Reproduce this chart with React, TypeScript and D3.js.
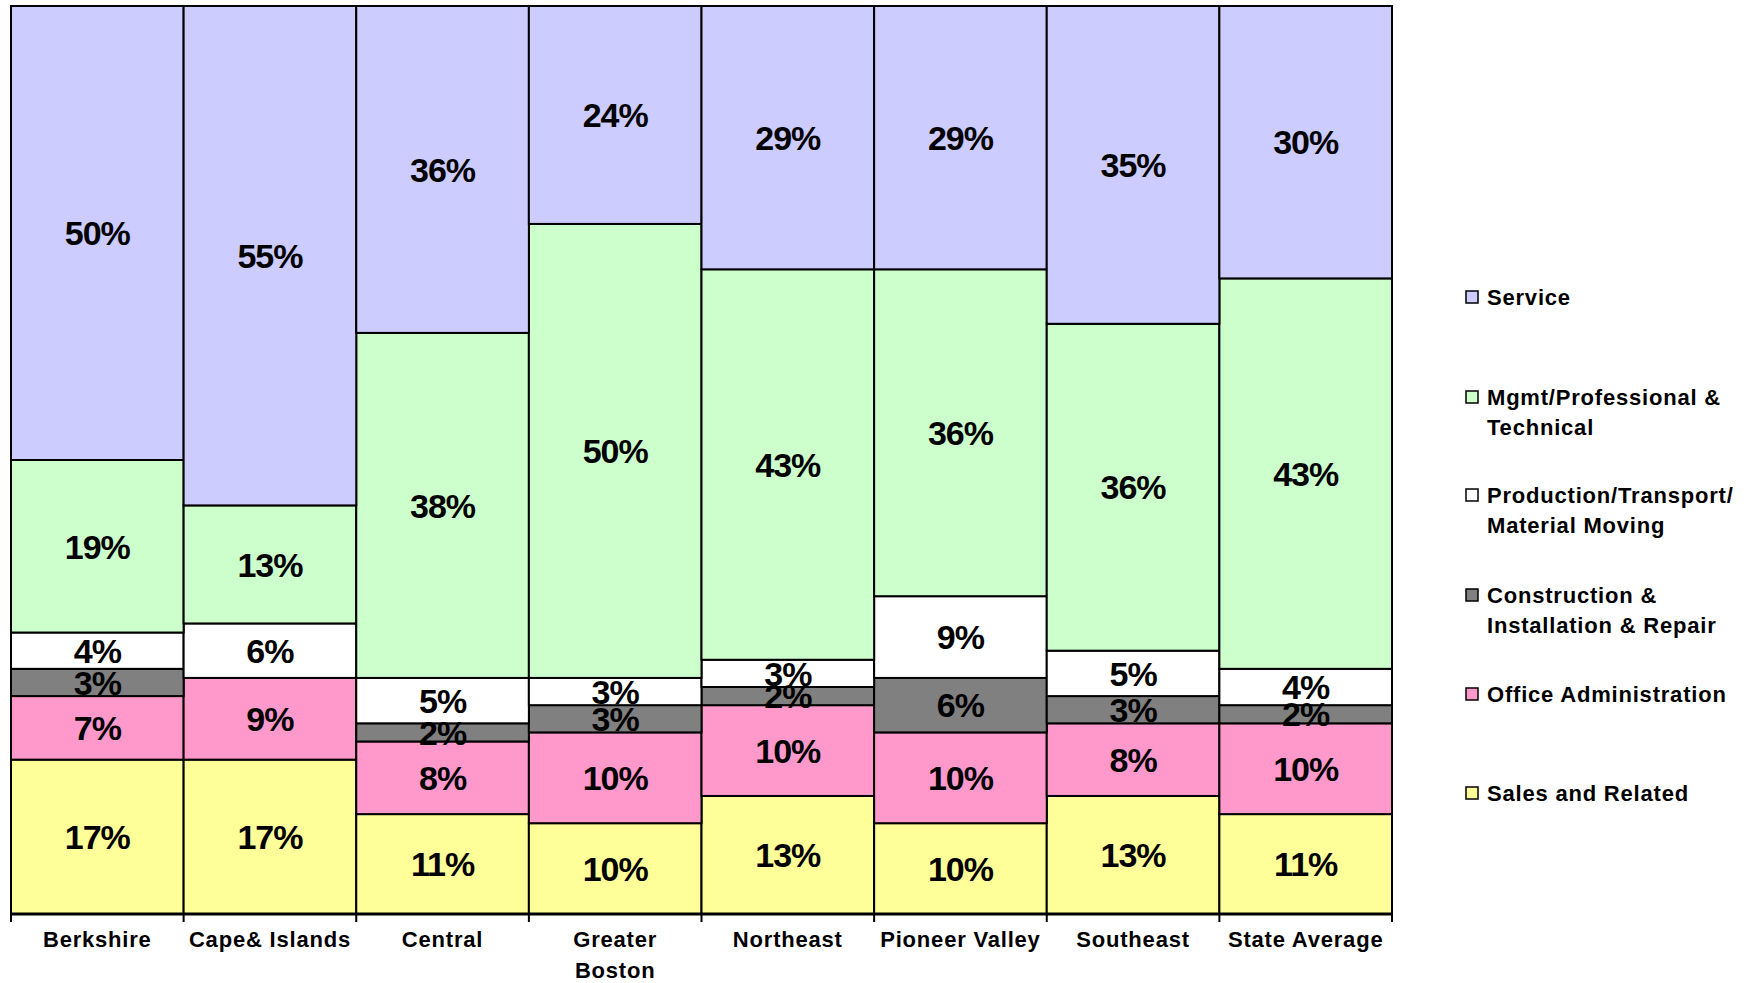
import React from 'react';
import * as d3 from 'd3';

// regions along the x axis
const regions = ['Berkshire', 'Cape& Islands', 'Central', 'Greater Boston', 'Northeast', 'Pioneer Valley', 'Southeast', 'State Average'];
const regionLines = [['Berkshire'], ['Cape& Islands'], ['Central'], ['Greater', 'Boston'], ['Northeast'], ['Pioneer Valley'], ['Southeast'], ['State Average']];

// percent share per occupation group, stacked bottom -> top
const sales = [17, 17, 11, 10, 13, 10, 13, 11];
const officeAdmin = [7, 9, 8, 10, 10, 10, 8, 10];
const construction = [3, 0, 2, 3, 2, 6, 3, 2];
const production = [4, 6, 5, 3, 3, 9, 5, 4];
const mgmt = [19, 13, 38, 50, 43, 36, 36, 43];
const service = [50, 55, 36, 24, 29, 29, 35, 30];

const seriesKeys = ['sales', 'office', 'construction', 'production', 'mgmt', 'service'];
const seriesValues = [sales, officeAdmin, construction, production, mgmt, service];
const seriesColors = ['#FFFF99', '#FF99CC', '#808080', '#FFFFFF', '#CCFFCC', '#CCCCFF'];

// legend, top -> bottom
const legendKeys = ['service', 'mgmt', 'production', 'construction', 'office', 'sales'];
const legendLabels = [['Service'], ['Mgmt/Professional &', 'Technical'], ['Production/Transport/', 'Material Moving'], ['Construction &', 'Installation & Repair'], ['Office Administration'], ['Sales and Related']];
const legendBaselines = [305, 405, 503, 603, 702, 801];

const W = 1754;
const H = 983;
const plot = { left: 11, right: 1392, top: 6, bottom: 914 };
const font = '"Liberation Sans", Arial, sans-serif';

const App = () => {
  const rows = regions.map((r, i) => {
    const row: any = { region: r };
    seriesKeys.forEach((k, j) => { row[k] = seriesValues[j][i]; });
    return row;
  });
  const stacked = d3.stack().keys(seriesKeys)(rows);

  const x = d3.scaleBand().domain(regions).range([plot.left, plot.right]).padding(0);
  const y = d3.scaleLinear().domain([0, 100]).range([plot.bottom, plot.top]);
  const color = d3.scaleOrdinal<string, string>().domain(seriesKeys).range(seriesColors);

  return (
    <svg width={W} height={H} style={{ position: 'absolute', left: 0, top: 0, background: '#fff' }}>
      {stacked.map((layer) => (
        <g key={layer.key}>
          {layer.map((d, i) => {
            const v = d[1] - d[0];
            if (v <= 0) return null;
            return (
              <rect key={i} x={x(regions[i])} y={y(d[1])} width={x.bandwidth()} height={y(d[0]) - y(d[1])}
                fill={color(layer.key)} stroke="#000" strokeWidth={2} />
            );
          })}
        </g>
      ))}
      {stacked.map((layer) => (
        <g key={'lab-' + layer.key}>
          {layer.map((d, i) => {
            const v = d[1] - d[0];
            if (v <= 0) return null;
            return (
              <text key={i} x={x(regions[i])! + x.bandwidth() / 2} y={(y(d[0]) + y(d[1])) / 2}
                dy="0.36em" textAnchor="middle" fontFamily={font} fontWeight="bold" fontSize={34}
                letterSpacing={-1}>
                {v}%
              </text>
            );
          })}
        </g>
      ))}
      {/* x axis */}
      <line x1={plot.left} x2={plot.right} y1={plot.bottom} y2={plot.bottom} stroke="#000" strokeWidth={3} />
      {[...regions.map((r) => x(r)!), plot.right].map((t, i) => (
        <line key={i} x1={t} x2={t} y1={plot.bottom} y2={plot.bottom + 8} stroke="#000" strokeWidth={2} />
      ))}
      {regionLines.map((lines, i) => (
        <text key={i} x={x(regions[i])! + x.bandwidth() / 2} y={947} textAnchor="middle"
          fontFamily={font} fontWeight="bold" fontSize={22} letterSpacing={0.8}>
          {lines.map((l, j) => (
            <tspan key={j} x={x(regions[i])! + x.bandwidth() / 2} dy={j === 0 ? 0 : 31}>{l}</tspan>
          ))}
        </text>
      ))}
      {/* legend */}
      {legendKeys.map((k, i) => (
        <g key={k}>
          <rect x={1466} y={legendBaselines[i] - 14} width={12} height={12} fill={color(k)} stroke="#000" strokeWidth={1.5} />
          <text x={1487} y={legendBaselines[i]} fontFamily={font} fontWeight="bold" fontSize={22} letterSpacing={0.8}>
            {legendLabels[i].map((l, j) => (
              <tspan key={j} x={1487} dy={j === 0 ? 0 : 30}>{l}</tspan>
            ))}
          </text>
        </g>
      ))}
    </svg>
  );
};

export default App;
